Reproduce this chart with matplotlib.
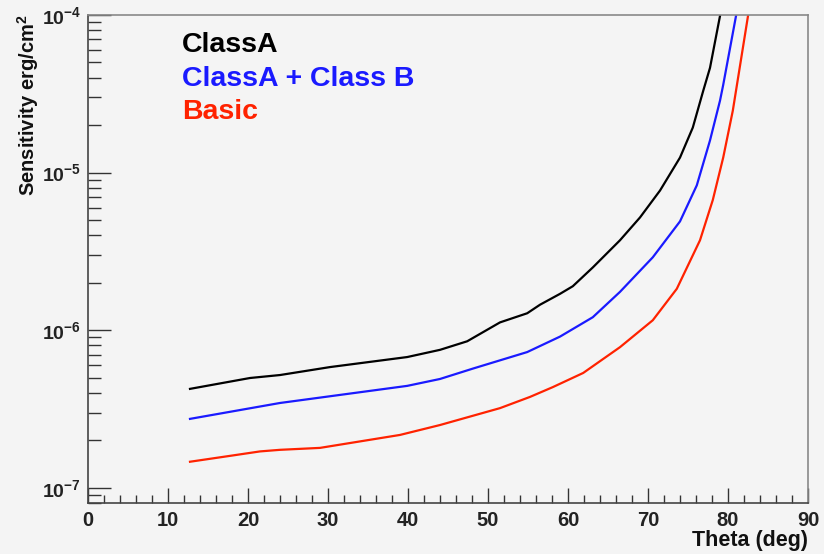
import matplotlib
matplotlib.use("Agg")
import matplotlib.pyplot as plt
from matplotlib.ticker import FixedLocator, FixedFormatter, LogLocator, NullFormatter, MultipleLocator

plt.rcParams['font.family'] = ['Liberation Sans', 'DejaVu Sans']
plt.rcParams['mathtext.fontset'] = 'custom'
plt.rcParams['mathtext.rm'] = 'Liberation Sans:bold'
plt.rcParams['mathtext.bf'] = 'Liberation Sans:bold'
plt.rcParams['mathtext.it'] = 'Liberation Sans:bold'

# ---- data ----
theta_a = [12.75, 20.25, 24, 30.25, 39.9, 44, 47.4, 51.5, 54.9, 56.5, 59, 60.6, 63.1, 66.5, 69, 71.5,
           74, 75.6, 76.9, 77.75, 79.0, 79.1]
sens_a = [4.24e-7, 4.97e-7, 5.19e-7, 5.83e-7, 6.75e-7, 7.5e-7, 8.5e-7, 1.12e-6, 1.28e-6, 1.45e-6, 1.70e-6,
          1.9e-6, 2.5e-6, 3.72e-6, 5.19e-6, 7.69e-6, 1.245e-5, 1.93e-5, 3.3e-5, 4.62e-5, 9.86e-5, 1.05e-4]

theta_ab = [12.75, 24, 39.9, 44, 48.1, 54.9, 59, 63.1, 66.5, 70.6, 74, 76.1, 77.75, 79.0, 79.4, 81.0, 81.1]
sens_ab = [2.735e-7, 3.45e-7, 4.43e-7, 4.9e-7, 5.7e-7, 7.26e-7, 9.1e-7, 1.208e-6, 1.75e-6, 2.9e-6,
           4.9e-6, 8.3e-6, 1.6e-5, 2.86e-5, 3.6e-5, 9.86e-5, 1.05e-4]

theta_basic = [12.75, 18, 21.5, 24, 29, 39, 44, 51.5, 55.25, 58.1, 61.9, 66.5, 70.6, 73.6, 76.5, 78.1,
               79.4, 80.6, 82.5, 82.6]
sens_basic = [1.462e-7, 1.6e-7, 1.70e-7, 1.74e-7, 1.79e-7, 2.163e-7, 2.5e-7, 3.2e-7, 3.77e-7, 4.35e-7,
              5.35e-7, 7.8e-7, 1.156e-6, 1.83e-6, 3.72e-6, 6.7e-6, 1.245e-5, 2.47e-5, 9.86e-5, 1.05e-4]

series_labels = ["ClassA", "ClassA + Class B", "Basic"]
series_colors = ["black", "#1a1aff", "#ff2200"]

y_major = [1e-7, 1e-6, 1e-5, 1e-4]
y_major_labels = [r"$10^{-7}$", r"$10^{-6}$", r"$10^{-5}$", r"$10^{-4}$"]

bg = "#f4f4f4"
W, H = 824, 554
fig = plt.figure(figsize=(W / 100, H / 100), dpi=100, facecolor=bg)
ax = fig.add_axes([88 / W, 1 - 503 / H, (808 - 88) / W, (503 - 15) / H], facecolor=bg)

for xs, ys, c in zip([theta_a, theta_ab, theta_basic], [sens_a, sens_ab, sens_basic], series_colors):
    ax.plot(xs, ys, color=c, lw=1.6, solid_joinstyle='round')

ax.set_yscale('log')
ax.set_xlim(0, 90)
ax.set_ylim(8.0e-8, 1e-4)

ax.xaxis.set_major_locator(MultipleLocator(10))
ax.xaxis.set_minor_locator(MultipleLocator(2))
ax.yaxis.set_major_locator(FixedLocator(y_major))
ax.yaxis.set_major_formatter(FixedFormatter(y_major_labels))
ax.yaxis.set_minor_locator(LogLocator(base=10, subs=range(2, 10)))
ax.yaxis.set_minor_formatter(NullFormatter())

ax.tick_params(axis='x', which='major', direction='in', length=11, width=1, color='#333333',
               labelsize=14.5, pad=6, top=False)
ax.tick_params(axis='x', which='minor', direction='in', length=5.5, width=1, color='#333333', top=False)
ax.tick_params(axis='y', which='major', direction='in', length=16.5, width=1, color='#333333',
               labelsize=14, pad=5, right=False)
ax.tick_params(axis='y', which='minor', direction='in', length=9, width=1, color='#333333', right=False)
for lab in ax.get_xticklabels():
    lab.set_fontweight('bold')
    lab.set_color('#222222')
for lab in ax.get_yticklabels():
    lab.set_color('#222222')

ax.spines['left'].set_color('#444444')
ax.spines['bottom'].set_color('#444444')
ax.spines['top'].set_color('#888888')
ax.spines['right'].set_color('#888888')
for s in ax.spines.values():
    s.set_linewidth(1.2)

fig.text(28 / W, 1 - 14 / H, r"Sensitivity erg/cm$^{2}$", rotation=90, ha='center', va='top',
         fontsize=14.5, fontweight='bold', color='#111111')
fig.text(808 / W, 1 - 551 / H, "Theta (deg)", ha='right', va='bottom',
         fontsize=15.5, fontweight='bold', color='#111111')

leg_y = [45, 79, 112]
for lab, c, yy in zip(series_labels, series_colors, leg_y):
    fig.text(182 / W, 1 - yy / H, lab, ha='left', va='center', fontsize=20.5, fontweight='bold', color=c)

fig.savefig("out.png", dpi=100, facecolor=bg)
